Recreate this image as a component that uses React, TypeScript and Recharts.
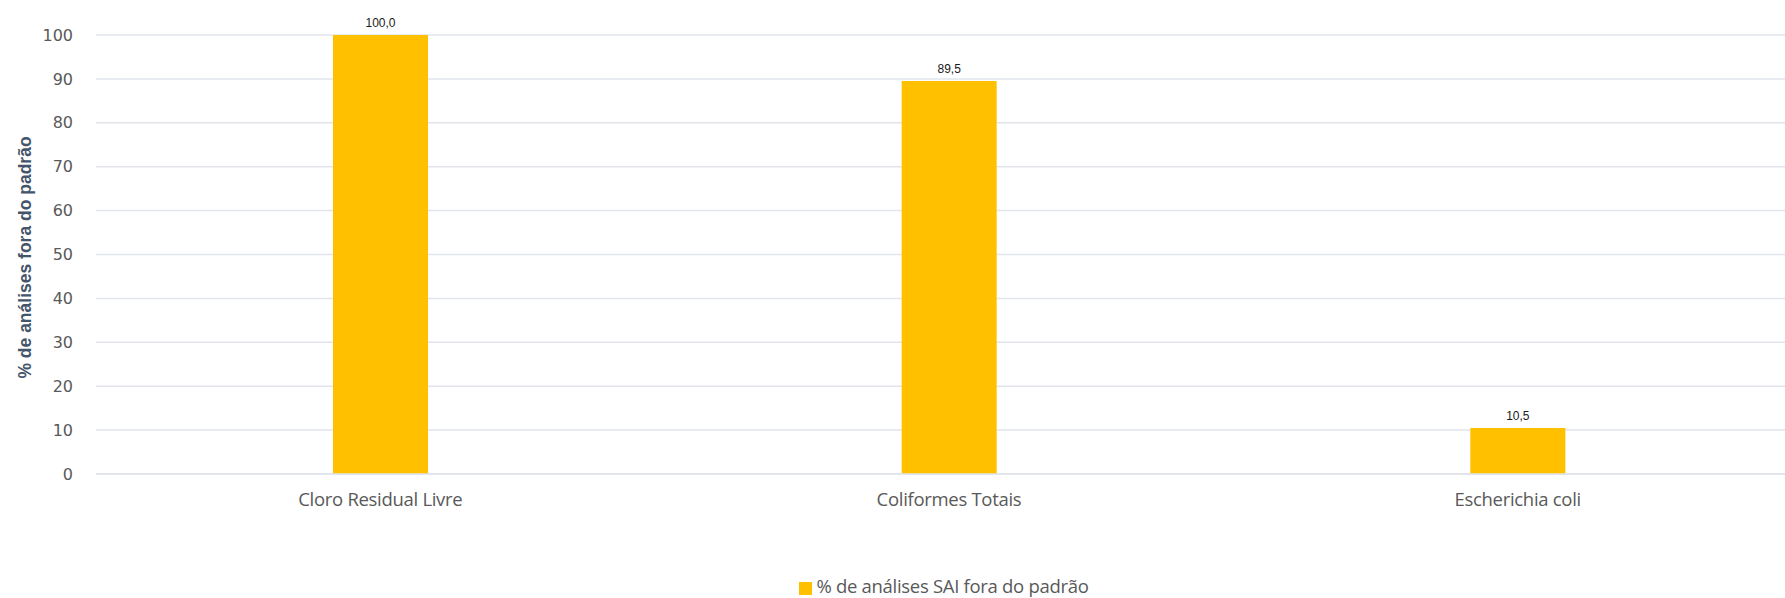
import React from 'react';
import { BarChart, Bar, XAxis, YAxis, CartesianGrid, Legend, LabelList, Label } from 'recharts';

const categories = ['Cloro Residual Livre', 'Coliformes Totais', 'Escherichia coli'];
const values = [100.0, 89.5, 10.5];
const yTicks = [0, 10, 20, 30, 40, 50, 60, 70, 80, 90, 100];
const seriesName = '% de análises SAI fora do padrão';
const yTitle = '% de análises fora do padrão';

const data = categories.map((c, i) => ({ name: c, value: values[i] }));

const fmt = (v: any) => Number(v).toFixed(1).replace('.', ',');

const YTitle = (props: any) => {
  const vb = props.viewBox || {};
  const cy = vb.y + vb.height / 2 + 3;
  const cx = 25;
  return (
    <text
      x={cx}
      y={cy}
      transform={`rotate(-90, ${cx}, ${cy})`}
      textAnchor="middle"
      dominantBaseline="central"
      fontFamily="Liberation Sans, Arial, sans-serif"
      fontWeight="bold"
      fontSize={17.5}
      fill="#44546a"
    >
      {yTitle}
    </text>
  );
};

export default function App() {
  return (
    <div style={{ position: 'absolute', left: 0, top: 0, width: 1785, height: 598, overflow: 'hidden', background: '#fff' }}>
      <BarChart
        width={1802}
        height={598}
        data={data}
        margin={{ top: 35, right: 0, bottom: 0, left: 0 }}
      >
        <CartesianGrid vertical={false} stroke="#e1e5eb" strokeWidth={1.5} />
        <XAxis
          dataKey="name"
          height={99}
          axisLine={{ stroke: '#e1e5eb', strokeWidth: 1.5 }}
          tickLine={false}
          tickSize={0}
          tickMargin={19}
          tick={{ fill: '#595959', fontSize: 18.5, fontFamily: 'Open Sans, sans-serif', letterSpacing: -0.3 }}
        />
        <YAxis
          width={96}
          domain={[0, 100]}
          ticks={yTicks}
          interval={0}
          axisLine={false}
          tickLine={false}
          tickSize={0}
          tickMargin={23}
          tick={{ fill: '#595959', fontSize: 16, fontFamily: 'DejaVu Sans, sans-serif' }}
        >
          <Label content={<YTitle />} />
        </YAxis>
        <Legend
          verticalAlign="bottom"
          align="center"
          iconType="square"
          iconSize={13}
          wrapperStyle={{ left: 96, width: 1706, bottom: 0, fontFamily: 'Open Sans, sans-serif', fontSize: 18.5, letterSpacing: -0.3, color: '#595959' }}
          formatter={(v: any) => <span style={{ color: '#595959' }}>{v}</span>}
        />
        <Bar dataKey="value" name={seriesName} fill="#ffc000" barSize={95} isAnimationActive={false}>
          <LabelList
            dataKey="value"
            position="top"
            offset={8}
            formatter={fmt}
            style={{ fill: '#1a1a1a', fontSize: 12, fontFamily: 'Liberation Sans, Arial, sans-serif' }}
          />
        </Bar>
      </BarChart>
    </div>
  );
}
